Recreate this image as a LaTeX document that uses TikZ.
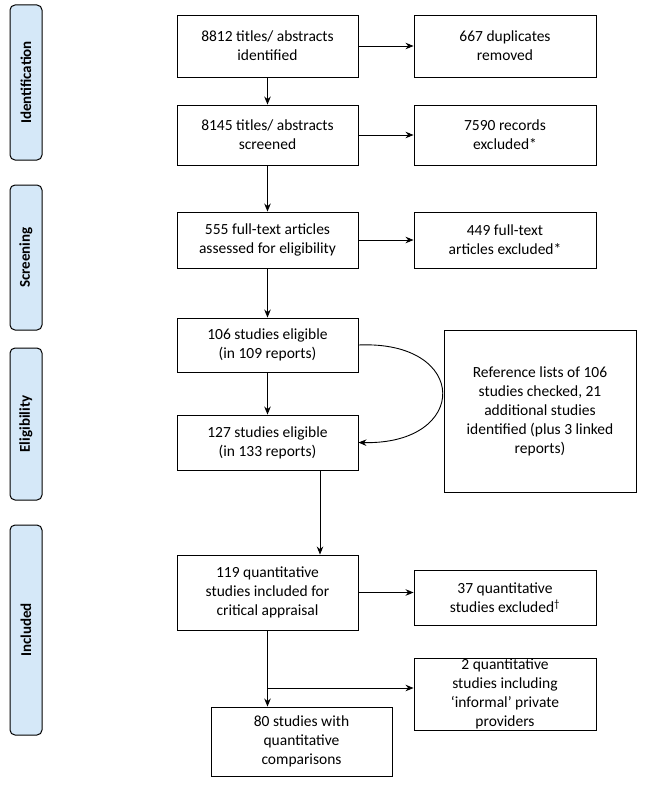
\documentclass[tikz,border=0pt]{standalone}
\usepackage{fontspec}
\setmainfont{Carlito}
\usetikzlibrary{arrows.meta}
\definecolor{sideblue}{HTML}{D5E8F8}
\begin{document}
\begin{tikzpicture}[x=1pt,y=-1pt,
  box/.style={draw,line width=0.9pt,align=center,inner sep=0pt,font=\fontsize{15.5}{19}\selectfont},
  side/.style={draw,line width=1pt,rounded corners=5pt,fill=sideblue},
  arr/.style={-{Stealth[length=8pt,width=6.5pt]},line width=0.9pt}]
\useasboundingbox (0,0) rectangle (654,800);
\newcommand\bx[6]{\node[box,minimum width=#4-#2,minimum height=#5-#3] (#1) at ({(#2+#4)/2},{(#3+#5)/2}) {#6};}
\newcommand\sd[4]{\node[side,minimum width=32,minimum height=#3-#2,anchor=center] (#1) at (26,{(#2+#3)/2}) {}; \node[rotate=90,font=\bfseries\fontsize{15}{17}\selectfont] (#1t) at (#1) {#4};}
\sd{s1}{5}{160}{Identification}
\sd{s2}{185}{330}{Screening}
\sd{s3}{348}{500}{Eligibility}
\sd{s4}{525}{735}{Included}
\bx{a}{177}{15}{358}{77}{8812 titles/ abstracts\\identified}
\bx{b}{414}{15}{596}{77}{667 duplicates\\removed}
\bx{c}{177}{105}{358}{165}{8145 titles/ abstracts\\screened}
\bx{d}{414}{105}{596}{165}{7590 records\\excluded*}
\bx{e}{177}{212}{358}{268}{555 full-text articles\\assessed for eligibility}
\bx{f}{414}{212}{596}{268}{449 full-text\\articles excluded*}
\bx{g}{177}{318}{358}{372}{106 studies eligible\\(in 109 reports)}
\bx{h}{444}{330}{636}{492}{Reference lists of 106\\studies checked, 21\\additional studies\\identified (plus 3 linked\\reports)}
\bx{i}{177}{415}{358}{470}{127 studies eligible\\(in 133 reports)}
\bx{j}{177}{555}{358}{630}{119 quantitative\\studies included for\\critical appraisal}
\bx{k}{414}{570}{596}{625}{37 quantitative\\studies excluded\textsuperscript{\dag}}
\bx{l}{414}{658}{596}{730}{\fontsize{15.5}{17}\selectfont 2 quantitative\\studies including\\‘informal’ private\\providers}
\bx{m}{211}{707}{392}{776}{80 studies with\\quantitative\\comparisons}
\draw[arr] (a) -- (c);
\draw[arr] (c) -- (e);
\draw[arr] (e) -- (g);
\draw[arr] (g) -- (i);
\draw[arr] (a) -- (b);
\draw[arr] (c) -- (d);
\draw[arr] (e) -- (f);
\draw[arr] (j.east) -- (k.west|-j.east);
\draw[arr] (i.south -| 320,0) -- (j.north -| 320,0);
\draw[arr] (g.east) .. controls (470,340) and (470,445) .. (i.east);
\coordinate (br) at (268,688);
\draw[arr] (j.south) -- (m.north -| j.south);
\draw[arr] (br) -- (l.west|-br);
\end{tikzpicture}
\end{document}
